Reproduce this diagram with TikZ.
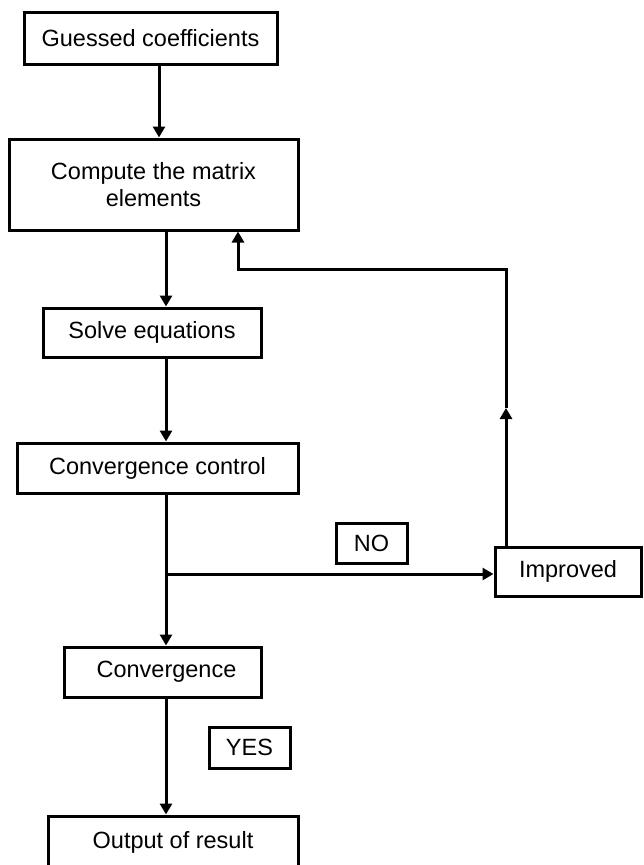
\documentclass[tikz,border=0pt]{standalone}
\usepackage{fontspec}
\setmainfont{Liberation Sans}
\usetikzlibrary{arrows.meta}
\tikzset{
  box/.style={draw, line width=3pt, rectangle, inner sep=0pt, align=center,
    font=\fontsize{23.5}{26.5}\selectfont},
  conn/.style={line width=3pt, -{Triangle[length=11pt,width=12pt]}},
}
\begin{document}
\begin{tikzpicture}[x=1pt,y=-1pt]
\useasboundingbox (0,0) rectangle (643,865);
\clip (0,0) rectangle (643,865);
\node[box, minimum width=253pt, minimum height=52pt] (b1) at (150.5,38) {Guessed coefficients};
\node[box, minimum width=289pt, minimum height=91pt] (b2) at (153.5,184.5) {Compute the matrix\\elements};
\node[box, minimum width=218pt, minimum height=49pt] (b3) at (152,332.5) {Solve equations};
\node[box, minimum width=281pt, minimum height=50pt] (b4) at (157.5,468) {Convergence control};
\node[box, minimum width=146pt, minimum height=49pt] (imp) at (568,571.5) {Improved};
\node[box, minimum width=71pt, minimum height=40pt] (no) at (371.5,543) {NO};
\node[box, minimum width=197pt, minimum height=50pt] (b6) at (162.5,672) {\hspace{8pt}Convergence};
\node[box, minimum width=81pt, minimum height=41pt] (yes) at (249.5,747.5) {YES};
\node[box, minimum width=250pt, minimum height=52pt] (b7) at (173,842) {Output of result};

\coordinate (mainx) at (166,0);
\coordinate (branch) at (166,574);
\coordinate (upx) at (506,0);
\coordinate (mid) at (506,408);
\coordinate (c1) at (506,269);
\coordinate (c2) at (238,269);

\draw[conn] (b1.south -| 159,0) -- (b2.north -| 159,0);
\draw[conn] (b2.south -| mainx) -- (b3.north -| mainx);
\draw[conn] (b3.south -| mainx) -- (b4.north -| mainx);
\draw[conn] (b4.south -| mainx) -- (b6.north -| mainx);
\draw[conn] (b6.south -| mainx) -- (b7.north -| mainx);
\draw[conn] (branch) -- (imp.west |- branch);
\draw[conn] (imp.north -| upx) -- (mid);
\draw[conn] (mid) -- (c1) -- (c2) -- (b2.south -| c2);
\end{tikzpicture}
\end{document}
